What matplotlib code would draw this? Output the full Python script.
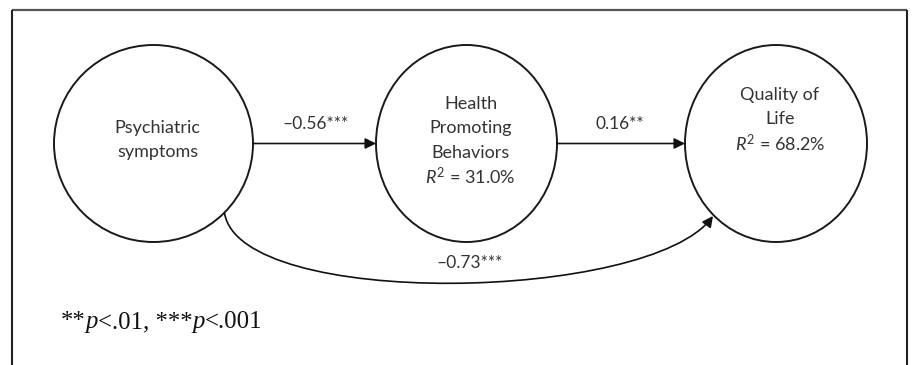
import matplotlib
matplotlib.use("Agg")
import matplotlib.pyplot as plt
from matplotlib.patches import Ellipse, FancyArrowPatch
from matplotlib.path import Path

# ---- data ----
node_lines = [["Psychiatric", "symptoms"],
              ["Health", "Promoting", "Behaviors"],
              ["Quality of", "Life"]]
node_r2 = [None, "31.0%", "68.2%"]
path_coefs = ["\u20130.56***", "0.16**", "\u20130.73***"]
footnote_parts = [("**", "normal"), ("p", "italic"), ("<.01, ***", "normal"),
                  ("p", "italic"), ("<.001", "normal")]

# ---- layout (pixel coordinates) ----
W, H = 914, 365
node_cx = [153.5, 466.5, 776]
node_cy = 143.5
node_w = [199, 181, 182]
node_h = 197
text_top = [128, 104, 95]
line_gap = 24.3

plt.rcParams['mathtext.fontset'] = 'custom'
plt.rcParams['mathtext.rm'] = 'Lato'
plt.rcParams['mathtext.it'] = 'Lato:italic'

fig = plt.figure(figsize=(W / 100, H / 100), dpi=100)
ax = fig.add_axes([0, 0, 1, 1])
ax.set_xlim(0, W)
ax.set_ylim(H, 0)
ax.axis('off')

FS = 13
FONT = 'Lato'
TXT = '#333333'

# frame
ax.plot([12, 907], [9.5, 9.5], color='#555555', lw=1.6, solid_capstyle='butt')
ax.plot([12, 12], [9.5, H], color='#222222', lw=1.5, solid_capstyle='butt')
ax.plot([907, 907], [9.5, H], color='#222222', lw=1.5, solid_capstyle='butt')

# nodes
for i in range(3):
    ax.add_patch(Ellipse((node_cx[i], node_cy), node_w[i], node_h,
                         fill=False, ec='#1a1a1a', lw=1.4))
    lines = list(node_lines[i])
    if node_r2[i] is not None:
        lines.append(r"$R^2$ = " + node_r2[i])
    for k, s in enumerate(lines):
        ax.text(node_cx[i] + 4, text_top[i] + k * line_gap, s, ha='center',
                va='center', fontsize=FS, family=FONT, color=TXT)

# straight arrows
def arrow(p0, p1):
    a = FancyArrowPatch(p0, p1, arrowstyle='-|>', mutation_scale=16,
                        lw=1.2, color='#111111', shrinkA=0, shrinkB=0)
    ax.add_patch(a)

arrow((node_cx[0] + node_w[0] / 2, node_cy), (node_cx[1] - node_w[1] / 2, node_cy))
arrow((node_cx[1] + node_w[1] / 2, node_cy), (node_cx[2] - node_w[2] / 2, node_cy))

# curved arrow
verts = [(224.5, 213), (240, 310), (650, 302), (713, 216)]
codes = [Path.MOVETO, Path.CURVE4, Path.CURVE4, Path.CURVE4]
ca = FancyArrowPatch(path=Path(verts, codes), arrowstyle='-|>', mutation_scale=16,
                     lw=1.2, color='#111111')
ax.add_patch(ca)

# coefficient labels
ax.text(316, 124, path_coefs[0], ha='center', va='center', fontsize=12.5,
        family=FONT, color=TXT)
ax.text(620, 124, path_coefs[1], ha='center', va='center', fontsize=12.5,
        family=FONT, color=TXT)
ax.text(470, 263, path_coefs[2], ha='center', va='center', fontsize=12.5,
        family=FONT, color=TXT)

# footnote (rainbow text)
prev = None
for s, style in footnote_parts:
    kw = dict(fontsize=17.8, family='Liberation Serif', style=style, color='#111111')
    if prev is None:
        prev = ax.text(61, 322, s, ha='left', va='center', **kw)
    else:
        prev = ax.annotate(s, xy=(1, 0), xycoords=prev, ha='left', va='bottom', **kw)

fig.savefig('out.png', dpi=100)
